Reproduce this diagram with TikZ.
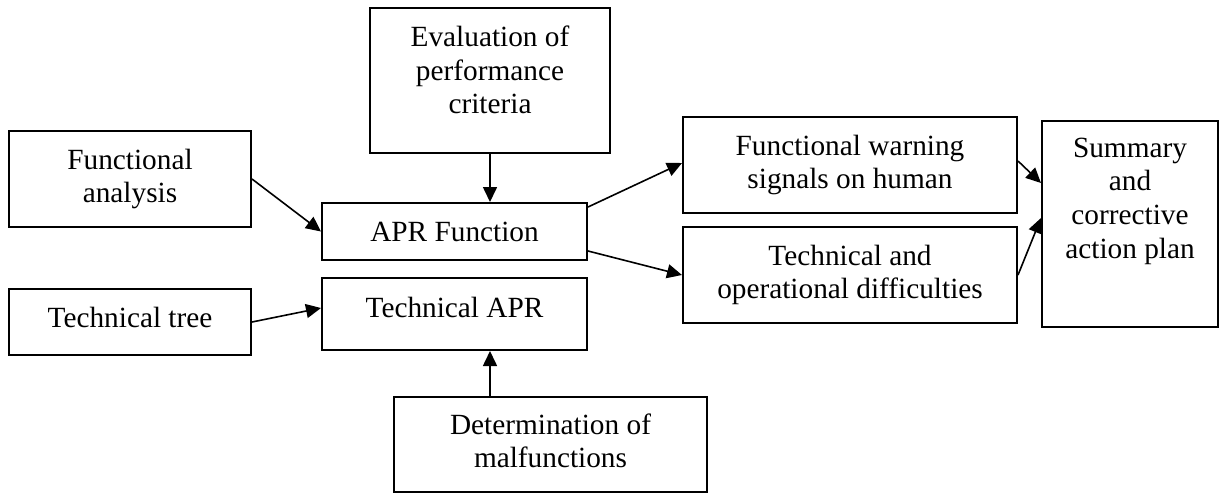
\documentclass[tikz,border=0pt]{standalone}
\usepackage{fontspec}
\setmainfont{Liberation Serif}
\usetikzlibrary{arrows.meta}

\begin{document}
\begin{tikzpicture}[x=0.5pt,y=-0.5pt,
    box/.style={draw,line width=1pt,align=center,inner sep=0pt,font=\fontsize{14.65pt}{16.8pt}\selectfont},
    arr/.style={-{Triangle[length=7.5pt,width=7pt]},line width=0.8pt}]
    \useasboundingbox (0,0) rectangle (1219,493);
    % boxes
    \node[box,minimum width=120pt,minimum height=72.5pt,text depth=10.5pt] (eval) at (490,80.5) {Evaluation of\\performance\\criteria};
    \node[box,minimum width=121pt,minimum height=48pt] (fa) at (130,179) {Functional\\analysis};
    \node[box,minimum width=121pt,minimum height=33pt,text depth=5pt] (tt) at (130,322) {Technical tree};
    \node[box,minimum width=132.5pt,minimum height=28.5pt] (aprf) at (454.5,231.5) {APR Function};
    \node[box,minimum width=132.5pt,minimum height=36pt,text depth=7pt] (tapr) at (454.5,314) {Technical APR};
    \node[box,minimum width=156.5pt,minimum height=47.5pt,text depth=4pt] (det) at (550.5,444.5) {Determination of\\malfunctions};
    \node[box,minimum width=167pt,minimum height=48pt] (fw) at (850,165) {Functional warning\\signals on human};
    \node[box,minimum width=167pt,minimum height=48pt] (tod) at (850,275) {Technical and\\operational difficulties};
    \node[box,minimum width=88pt,minimum height=103pt,text depth=26pt] (sum) at (1130,224) {Summary\\and\\corrective\\action plan};
    % arrows
    \draw[arr] (fa.east) -- (aprf.west);
    \draw[arr] (eval.south) -- (eval.south |- aprf.north);
    \draw[arr] (tt.east) -- ([yshift=3pt]tapr.west);
    \draw[arr] (det.north -| eval.south) -- (tapr.south -| eval.south);
    \draw[arr] ([yshift=-2.5pt]aprf.north east) -- ([yshift=1pt]fw.west);
    \draw[arr] ([yshift=5pt]aprf.south east) -- (tod.west);
    \draw[arr] ([yshift=2pt]fw.east) -- ([yshift=20.5pt]sum.west);
    \draw[arr] (tod.east) -- ([yshift=3pt]sum.west);
\end{tikzpicture}
\end{document}
